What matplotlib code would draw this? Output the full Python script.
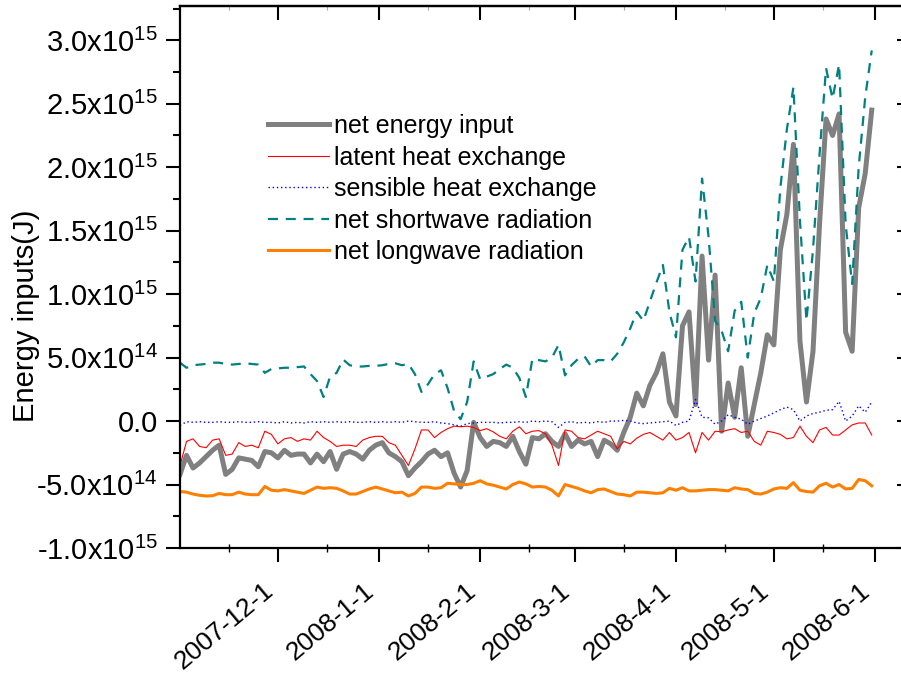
import matplotlib
matplotlib.use("Agg")
import matplotlib.pyplot as plt
import matplotlib.dates as mdates
import numpy as np
import pandas as pd

plt.rcParams['font.family'] = ['Liberation Sans', 'DejaVu Sans']
plt.rcParams['mathtext.fontset'] = 'custom'
plt.rcParams['mathtext.rm'] = 'Liberation Sans'
plt.rcParams['mathtext.it'] = 'Liberation Sans:italic'
plt.rcParams['mathtext.bf'] = 'Liberation Sans:bold'

# every second day, 2007-11-01 .. 2008-05-31, values in 1e14 J
dates = pd.date_range("2007-11-01", periods=107, freq="2D")

net_energy = [
    -4.2, -2.7, -3.7, -3.3, -2.8, -2.3, -1.9, -4.2, -3.8, -2.9,
    -3.0, -3.1, -3.6, -2.4, -2.5, -2.9, -2.3, -2.7, -2.6, -2.6,
    -3.3, -2.6, -3.2, -2.4, -3.8, -2.6, -2.4, -2.6, -3.0, -2.3,
    -1.9, -1.7, -2.5, -2.8, -3.2, -4.3, -3.7, -3.2, -2.6, -2.3,
    -2.8, -2.5, -4.1, -5.2, -3.9, -0.1, -1.3, -2.0, -1.6, -1.7,
    -2.0, -1.2, -2.4, -3.4, -1.3, -1.4, -1.0, -1.6, -2.0, -1.0,
    -2.0, -1.5, -1.8, -1.6, -2.8, -1.5, -1.8, -2.3, -0.9, 0.3,
    2.2, 1.2, 2.8, 3.8, 5.3, 1.5, 0.4, 7.5, 8.6, 1.3,
    13.0, 4.8, 11.5, -0.8, 3.0, 0.3, 4.2, -1.2, 1.3, 3.8,
    6.8, 6.0, 13.5, 16.3, 21.8, 6.3, 1.5, 5.5, 15.5, 23.8,
    22.5, 24.2, 7.0, 5.5, 16.8, 19.5, 24.5,
]

latent_heat = [
    -3.5, -1.6, -1.4, -2.0, -2.1, -1.5, -1.4, -2.7, -2.6, -1.7,
    -2.0, -1.9, -2.1, -0.8, -1.05, -1.8, -1.4, -1.3, -1.6, -1.4,
    -1.5, -0.8, -1.3, -1.6, -2.0, -1.9, -1.9, -2.0, -1.5, -1.3,
    -1.2, -1.2, -1.7, -1.9, -2.7, -3.5, -2.2, -0.7, -0.7, -1.3,
    -0.9, -0.6, -0.4, -0.45, -0.4, -0.5, -0.75, -0.6, -0.85, -1.2,
    -1.4, -0.8, -0.45, -1.0, -0.8, -0.75, -1.0, -1.9, -3.5, -0.7,
    -0.8, -1.3, -1.4, -1.1, -0.8, -1.0, -1.2, -2.2, -1.6, -1.8,
    -1.35, -1.05, -0.9, -1.2, -1.5, -0.9, -1.5, -1.3, -0.9, -2.5,
    -0.9, -1.5, -0.8, -0.85, -0.7, -0.6, -0.9, -0.8, -1.6, -1.9,
    -0.8, -0.9, -1.05, -1.4, -1.3, -0.4, -1.2, -1.7, -0.7, -0.5,
    -1.1, -1.1, -0.7, -0.3, -0.15, -0.15, -1.1,
]

sensible_heat = [
    -0.35, -0.05, -0.1, -0.05, -0.1, -0.1, -0.05, -0.1, -0.1, -0.05,
    -0.1, -0.1, -0.05, -0.1, -0.1, -0.15, -0.05, -0.15, -0.1, -0.15,
    -0.05, -0.1, -0.05, -0.1, -0.05, -0.1, -0.05, -0.1, -0.1, -0.05,
    -0.1, -0.05, -0.1, -0.05, -0.1, 0.0, -0.05, -0.1, -0.1, -0.05,
    -0.15, -0.2, -0.3, -0.4, -0.2, -0.15, -0.1, -0.1, -0.1, -0.15,
    -0.1, -0.1, -0.05, -0.1, 0.0, -0.05, 0.0, -0.05, -0.5, -0.1,
    -0.05, -0.15, -0.1, -0.15, -0.05, -0.1, 0.0, 0.0, 0.05, 0.0,
    -0.15, -0.2, -0.15, -0.1, -0.05, 0.0, -0.35, -0.1, 0.0, 1.7,
    0.3, 0.25, -0.25, 0.0, 0.5, 0.3, 0.15, -0.25, 0.0, 0.2,
    0.4, 0.65, 0.9, 1.1, 0.9, 0.0, 0.4, 0.6, 0.7, 0.85,
    0.9, 1.55, 0.0, 0.4, 1.2, 0.7, 1.5,
]

shortwave = [
    4.6, 4.2, 4.4, 4.45, 4.5, 4.6, 4.6, 4.5, 4.45, 4.5,
    4.55, 4.5, 4.45, 3.8, 4.1, 4.15, 4.2, 4.2, 4.25, 4.3,
    3.7, 3.15, 1.9, 3.5, 3.8, 4.85, 4.4, 4.3, 4.3, 4.35,
    4.35, 4.4, 4.5, 4.55, 4.4, 4.5, 3.7, 2.3, 2.9, 3.7,
    4.0, 2.6, 0.8, 0.15, 1.5, 4.7, 3.3, 3.5, 3.7, 4.1,
    4.45, 4.2, 3.4, 1.9, 4.9, 4.8, 4.7, 5.0, 6.0, 3.6,
    4.4, 4.9, 5.1, 4.3, 4.8, 4.8, 4.7, 5.3, 6.2, 7.3,
    8.6, 7.9, 9.4, 10.9, 12.3, 8.6, 6.6, 13.5, 14.5, 11.0,
    19.1, 14.5, 7.9, 7.1, 5.5, 8.7, 9.4, 5.0, 8.5, 9.7,
    12.3, 11.0, 18.4, 23.0, 26.3, 15.8, 7.9, 13.5, 21.0, 27.8,
    25.4, 28.1, 15.5, 10.8, 20.0, 25.5, 29.2,
]

longwave = [
    -5.55, -5.6, -5.75, -5.85, -5.9, -5.88, -5.7, -5.8, -5.8, -5.6,
    -5.75, -5.8, -5.8, -5.15, -5.45, -5.5, -5.4, -5.5, -5.6, -5.7,
    -5.45, -5.2, -5.3, -5.25, -5.3, -5.5, -5.75, -5.75, -5.55, -5.35,
    -5.2, -5.35, -5.5, -5.65, -5.6, -5.9, -5.7, -5.2, -5.2, -5.3,
    -5.25, -4.9, -4.95, -5.0, -5.0, -4.9, -4.7, -4.95, -5.05, -5.2,
    -5.35, -5.0, -4.8, -4.95, -5.2, -5.15, -5.2, -5.45, -5.9, -5.0,
    -5.15, -5.3, -5.5, -5.65, -5.4, -5.35, -5.55, -5.75, -5.8, -5.9,
    -5.6, -5.6, -5.65, -5.7, -5.65, -5.3, -5.45, -5.25, -5.5, -5.5,
    -5.45, -5.4, -5.4, -5.45, -5.5, -5.25, -5.35, -5.4, -5.7, -5.75,
    -5.6, -5.35, -5.25, -5.3, -4.85, -5.45, -5.55, -5.6, -5.1, -4.9,
    -5.2, -5.0, -5.35, -5.3, -4.6, -4.7, -5.1,
]

month_ticks = ["2007-12-01", "2008-01-01", "2008-02-01", "2008-03-01",
               "2008-04-01", "2008-05-01", "2008-06-01"]
month_labels = ["2007-12-1", "2008-1-1", "2008-2-1", "2008-3-1",
                "2008-4-1", "2008-5-1", "2008-6-1"]
y_ticks = [-1.0e15, -0.5e15, 0.0, 0.5e15, 1.0e15, 1.5e15, 2.0e15, 2.5e15, 3.0e15]
y_labels = ["-1.0x10$^{15}$", "-5.0x10$^{14}$", "0.0", "5.0x10$^{14}$",
            "1.0x10$^{15}$", "1.5x10$^{15}$", "2.0x10$^{15}$", "2.5x10$^{15}$",
            "3.0x10$^{15}$"]

scale = 1e14

fig = plt.figure(figsize=(9.01, 6.76), dpi=100)
ax = fig.add_axes([180 / 901, 128 / 676, 723 / 901, 542 / 676])

ax.plot(dates, np.array(net_energy) * scale, color='#808080', lw=3.6,
        solid_joinstyle='round', label='net energy input')
ax.plot(dates, np.array(latent_heat) * scale, color='#ff0000', lw=0.8,
        label='latent heat exchange')
ax.plot(dates, np.array(sensible_heat) * scale, color='#0000ff', lw=1.0,
        linestyle=(0, (1, 2)), label='sensible heat exchange')
ax.plot(dates, np.array(shortwave) * scale, color='#008080', lw=1.6,
        linestyle=(0, (4.5, 3.5)), label='net shortwave radiation')
ax.plot(dates, np.array(longwave) * scale, color='#ff8000', lw=2.2,
        label='net longwave radiation')

ax.set_xlim(pd.Timestamp("2007-11-01"), pd.Timestamp("2008-06-09 14:00"))
ax.set_ylim(-1.0e15, 3.27e15)

ax.set_xticks([pd.Timestamp(t) for t in month_ticks])
ax.set_xticklabels(month_labels, rotation=40, ha='right', va='top', fontsize=19)
ax.xaxis.set_minor_locator(mdates.MonthLocator(bymonthday=16))
ax.set_yticks(y_ticks)
ax.set_yticklabels(y_labels, fontsize=21)
ax.yaxis.set_minor_locator(matplotlib.ticker.MultipleLocator(0.25e15))

ax.tick_params(axis='both', which='major', width=1.5, length=10)
ax.tick_params(axis='x', which='major', direction='out', pad=12)
ax.tick_params(axis='y', which='major', direction='out', pad=6)
ax.tick_params(axis='x', which='minor', direction='inout', length=6, width=1.0)
ax.tick_params(axis='y', which='minor', direction='out', length=5, width=1.5)

for side in ['left', 'bottom', 'top']:
    ax.spines[side].set_linewidth(1.6)
ax.spines['right'].set_visible(False)

top = ax.secondary_xaxis('top')
top.set_xticks([pd.Timestamp(t) for t in month_ticks])
top.xaxis.set_minor_locator(mdates.MonthLocator(bymonthday=16))
top.tick_params(which='major', direction='in', length=10, width=1.5, labeltop=False)
top.tick_params(which='minor', direction='in', length=3, width=0.8, colors='#aaaaaa')
top.spines['top'].set_linewidth(1.6)

right = ax.secondary_yaxis('right')
right.set_yticks(y_ticks)
right.tick_params(which='major', direction='in', length=4, width=1.5, labelright=False)
right.tick_params(which='minor', length=0)

ax.set_ylabel('Energy inputs(J)', fontsize=21)
ax.yaxis.set_label_coords(-0.194, 0.428)

ax.legend(loc='upper left', bbox_to_anchor=(268 / 901, 1 - 114 / 676),
          bbox_transform=fig.transFigure, frameon=False, fontsize=18,
          handlelength=2.45, handletextpad=0.2, labelspacing=0.3,
          borderpad=0, borderaxespad=0)

fig.savefig('out.png', dpi=100)
